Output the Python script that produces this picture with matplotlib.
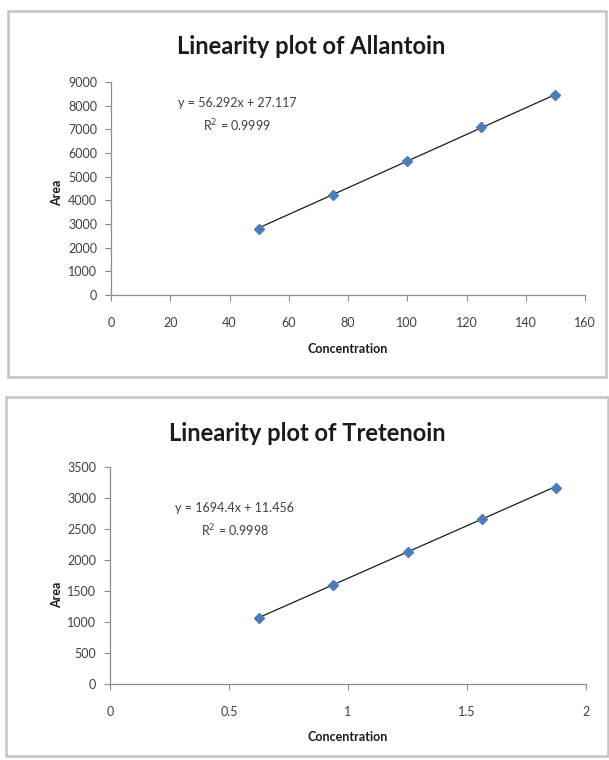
import matplotlib
matplotlib.use("Agg")
import matplotlib.pyplot as plt
from matplotlib.patches import Rectangle
import numpy as np

# Data
allantoin_conc = [50, 75, 100, 125, 150]
allantoin_area = [2800, 4220, 5650, 7100, 8430]
allantoin_slope, allantoin_intercept = 56.292, 27.117
allantoin_eq = ["y = 56.292x + 27.117", "R$^2$ = 0.9999"]

tretenoin_conc = [0.625, 0.9375, 1.25, 1.5625, 1.875]
tretenoin_area = [1060, 1590, 2130, 2660, 3160]
tretenoin_slope, tretenoin_intercept = 1694.4, 11.456
tretenoin_eq = ["y = 1694.4x + 11.456", "R$^2$ = 0.9998"]

allantoin_xticks = [0, 20, 40, 60, 80, 100, 120, 140, 160]
allantoin_yticks = [0, 1000, 2000, 3000, 4000, 5000, 6000, 7000, 8000, 9000]
tretenoin_xticks = [0, 0.5, 1, 1.5, 2]
tretenoin_xlabels = ["0", "0.5", "1", "1.5", "2"]
tretenoin_yticks = [0, 500, 1000, 1500, 2000, 2500, 3000, 3500]

plt.rcParams['font.family'] = ['Lato', 'DejaVu Sans']

W, H = 609, 760
fig = plt.figure(figsize=(W / 100, H / 100), dpi=100)

def fx(px):
    return px / W

def fy(py):
    return 1 - py / H

# Panel borders
for (x0, y0, x1, y1) in [(8, 11, 606, 377), (6, 397, 608, 756)]:
    fig.patches.append(Rectangle((fx(x0), fy(y1)), fx(x1) - fx(x0), fy(y0) - fy(y1),
                                 transform=fig.transFigure, fill=False,
                                 edgecolor='#c4c4c4', linewidth=1.8))

marker_color = '#4a7ebb'
tick_color = '#404040'

def make_panel(ax_px, title, title_xy, xs, ys, slope, intercept, eq, eq_xy,
               xticks, xlabels, yticks, xlim, ylim, xlabel_y, ylabel_xy):
    l, r, t, b = ax_px
    ax = fig.add_axes([fx(l), fy(b), fx(r) - fx(l), fy(t) - fy(b)])
    ax.set_xlim(*xlim)
    ax.set_ylim(*ylim)
    xs_a = np.array(xs)
    line_x = np.array([xs_a.min(), xs_a.max()])
    ax.plot(line_x, slope * line_x + intercept, color='#1a1a1a', linewidth=0.9, zorder=2)
    ax.plot(xs, ys, linestyle='none', marker='D', markersize=5.5,
            color=marker_color, markeredgecolor=marker_color, zorder=3)
    for s in ['top', 'right']:
        ax.spines[s].set_visible(False)
    for s in ['left', 'bottom']:
        ax.spines[s].set_color('#8c8c8c')
        ax.spines[s].set_linewidth(0.9)
    ax.set_xticks(xticks)
    ax.set_xticklabels(xlabels)
    ax.set_yticks(yticks)
    ax.tick_params(axis='both', direction='out', length=4, width=0.8,
                   color='#8c8c8c', labelcolor=tick_color, labelsize=9)
    ax.tick_params(axis='x', pad=12)
    ax.tick_params(axis='y', pad=6)
    fig.text(fx(title_xy[0]), fy(title_xy[1]), title, ha='center', va='center',
             fontsize=17, fontweight='bold', color='#1a1a1a')
    fig.text(fx(eq_xy[0]), fy(eq_xy[1]), eq[0], ha='center', va='center',
             fontsize=9, color=tick_color)
    fig.text(fx(eq_xy[0]), fy(eq_xy[1] + 23), eq[1], ha='center', va='center',
             fontsize=9, color=tick_color)
    fig.text(fx((l + r) / 2 - 0), fy(xlabel_y), "Concentration", ha='center', va='center',
             fontsize=9, fontweight='bold', color='#1a1a1a')
    fig.text(fx(ylabel_xy[0]), fy(ylabel_xy[1]), "Area", ha='center', va='center',
             rotation=90, fontsize=9, fontweight='bold', color='#1a1a1a')
    return ax

make_panel((111, 585, 82, 295), "Linearity plot of Allantoin", (311, 47),
           allantoin_conc, allantoin_area, allantoin_slope, allantoin_intercept,
           allantoin_eq, (237, 103),
           allantoin_xticks, [str(v) for v in allantoin_xticks], allantoin_yticks,
           (0, 160), (0, 9000), 349, (57, 193))

make_panel((110, 586, 467, 684), "Linearity plot of Tretenoin", (307, 433),
           tretenoin_conc, tretenoin_area, tretenoin_slope, tretenoin_intercept,
           tretenoin_eq, (235, 508),
           tretenoin_xticks, tretenoin_xlabels, tretenoin_yticks,
           (0, 2), (0, 3500), 737, (57, 595))

fig.savefig("out.png", dpi=100)
